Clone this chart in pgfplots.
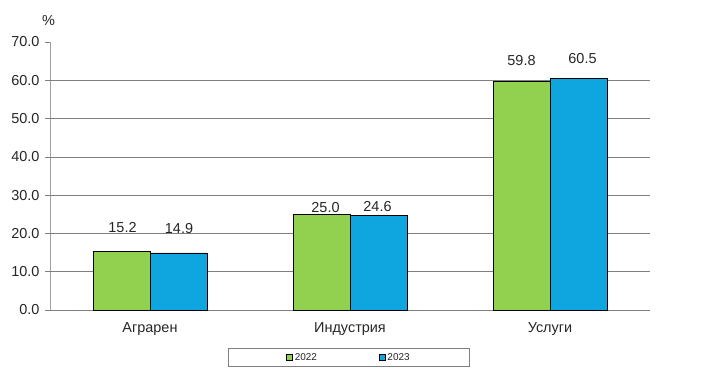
\documentclass[border=0pt]{standalone}
\usepackage{pgfplots}
\usepackage{pgfplotstable}
\pgfplotsset{compat=1.18}
\usepackage{fontspec}
\setmainfont{Liberation Sans}
\definecolor{bargreen}{HTML}{92D050}
\definecolor{barblue}{HTML}{0FA6E0}
\definecolor{gridgray}{HTML}{7F7F7F}
\definecolor{axisgray}{HTML}{A0A0A0}
\definecolor{txt}{HTML}{262626}
\pgfplotstableread{
x y off xo
0 15.2 23.8 1
1 25.0 7.2 4
2 59.8 20.9 0
}\greentab
\pgfplotstableread{
x y off xo
0 14.9 24.9 0.5
1 24.6 8.8 -1
2 60.5 20.2 4
}\bluetab
\begin{document}
\begin{tikzpicture}
\useasboundingbox (-50bp,-72bp) rectangle (670bp,310bp);
\begin{axis}[
  scale only axis,
  width=600bp, height=268bp,
  xmin=-0.5, xmax=2.5,
  ymin=0, ymax=70,
  axis lines=left,
  axis line style={-},
  x axis line style={gridgray},
  y axis line style={axisgray},
  separate axis lines,
  xtick={0,1,2},
  xticklabels={Аграрен, Индустрия, Услуги},
  x tick style={draw=none},
  extra x ticks={-0.5,0.5,1.5,2.5},
  extra x tick labels={},
  extra x tick style={tick style={draw=gridgray, line width=0.6pt}, major tick length=5bp, tick align=outside},
  ytick={0,10,...,70},
  y tick style={draw=gridgray, line width=0.6pt},
  major tick length=5bp,
  tick align=outside,
  extra y ticks={10,20,...,60},
  extra y tick labels={},
  extra y tick style={ymajorgrids=true, major tick length=0pt},
  grid style={gridgray, line width=0.7pt},
  y tick label style={/pgf/number format/fixed, /pgf/number format/fixed zerofill, /pgf/number format/precision=1, /pgf/number format/assume math mode=true, /tikz/xshift=-2bp},
  tick label style={font=\fontsize{14.5}{17}\selectfont, text=txt},
  xticklabel style={yshift=-4bp},
  ylabel={\%},
  ylabel style={rotate=-90, at={(axis description cs:0,1)}, anchor=center, yshift=21bp, xshift=-1.5bp, font=\fontsize{14.5}{17}\selectfont, text=txt},
  ybar=0pt,
  bar width=0.285,
  nodes near coords,
  point meta=explicit,
  visualization depends on={\thisrow{off} \as \myoff},
  visualization depends on={\thisrow{xo} \as \myxo},
  nodes near coords style={font=\fontsize{14.5}{17}\selectfont, text=txt, anchor=center, inner sep=0pt, yshift=\myoff bp, xshift=\myxo bp, /pgf/number format/fixed, /pgf/number format/fixed zerofill, /pgf/number format/precision=1, /pgf/number format/assume math mode=true},
  legend columns=2,
  legend style={at={(0.4983,-0.177)}, anchor=center, draw=gridgray, line width=0.8pt,
    font=\fontsize{10}{12}\selectfont, text=txt,
    inner xsep=58bp, inner ysep=2.5bp,
    /tikz/every even column/.append style={column sep=60bp}},
  legend image code/.code={\draw[#1, draw=black, line width=0.5pt] (0bp,-3bp) rectangle (6bp,3bp);},
]
\addplot[fill=bargreen, draw=black, line width=0.8pt, bar shift=-0.1425] table[x=x, y=y, meta=y] {\greentab};
\addplot[fill=barblue, draw=black, line width=0.8pt, bar shift=0.1425] table[x=x, y=y, meta=y] {\bluetab};
\legend{2022, 2023}
\end{axis}
\end{tikzpicture}
\end{document}
